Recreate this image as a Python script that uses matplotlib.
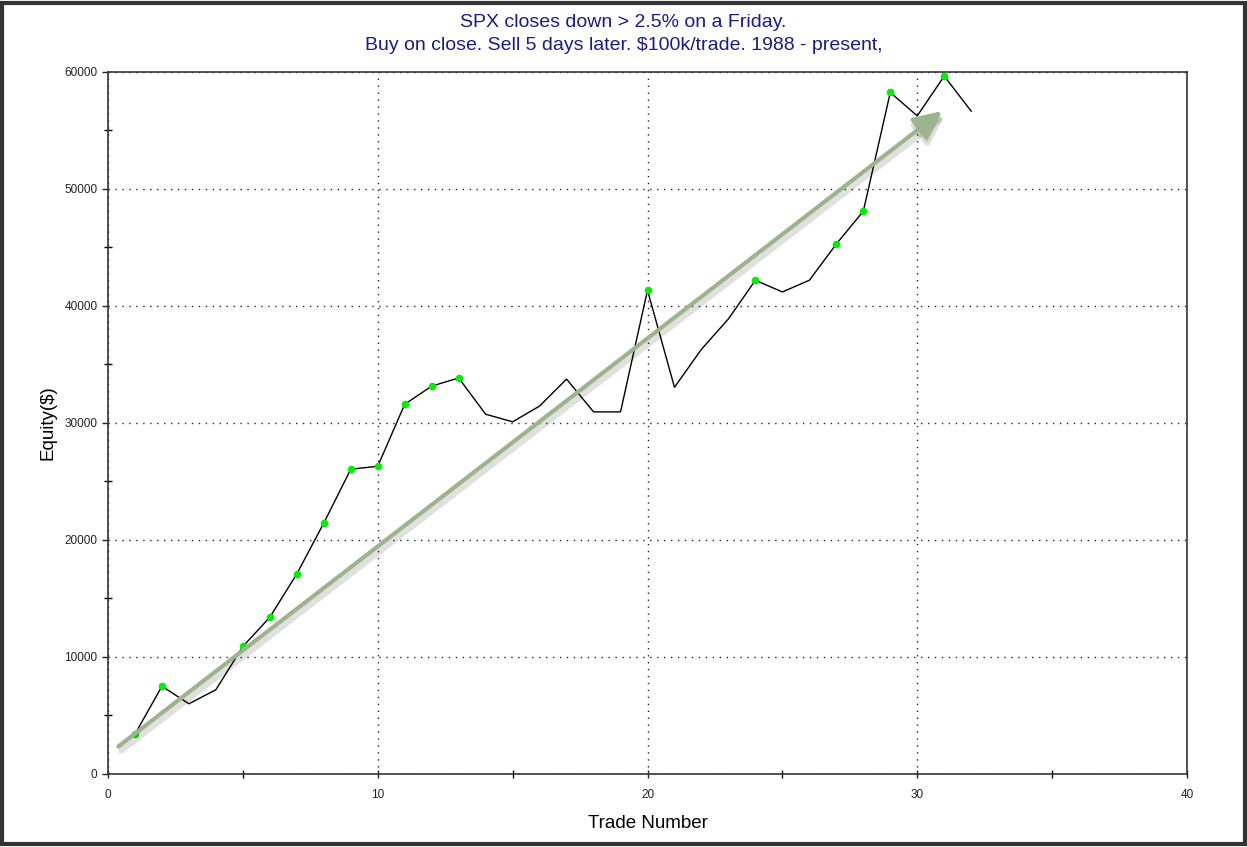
import matplotlib.pyplot as plt
from matplotlib.patches import Rectangle, FancyArrowPatch
from matplotlib.ticker import MultipleLocator
from matplotlib.transforms import offset_copy

# Datos
trades = list(range(1, 33))
equity = [3400, 7500, 6000, 7200, 10900, 13400, 17100, 21450, 26050, 26300,
          31600, 33150, 33850, 30750, 30100, 31450, 33750, 30950, 30950, 41350,
          33050, 36300, 38900, 42200, 41200, 42200, 45300, 48100, 58250, 56250,
          59650, 56650]
# Trades con nuevo maximo (puntos verdes)
new_high_trades = [1, 2, 5, 6, 7, 8, 9, 10, 11, 12, 13, 20, 24, 27, 28, 29, 31]

# Flecha de tendencia (inicio y fin en coordenadas de datos)
arrow_start = (0.3, 2200)
arrow_end = (31.0, 56800)

title = "SPX closes down > 2.5% on a Friday.\nBuy on close. Sell 5 days later. $100k/trade. 1988 - present,"

plt.rcParams["font.family"] = ["Liberation Sans", "DejaVu Sans"]

fig = plt.figure(figsize=(12.47, 8.47), dpi=100)
ax = fig.add_axes([0.0866, 0.0862, 0.8653, 0.8288])

ax.plot(trades, equity, color="black", linewidth=1.0, zorder=3)
high_equity = [equity[t - 1] for t in new_high_trades]
ax.scatter(new_high_trades, high_equity, s=30, color="#00ee00", zorder=4, linewidths=0)

# sombra de la flecha
estilo = "-|>,head_length=17,head_width=8"
sombra = FancyArrowPatch(arrow_start, arrow_end, arrowstyle=estilo, color="#000000", alpha=0.12,
                         linewidth=4.5, mutation_scale=1, zorder=4.5,
                         transform=offset_copy(ax.transData, fig, x=3, y=-4, units="dots"))
ax.add_patch(sombra)
arrow = FancyArrowPatch(arrow_start, arrow_end, arrowstyle=estilo,
                        color="#9cb48c", linewidth=3, mutation_scale=1, zorder=5)
ax.add_patch(arrow)

ax.set_xlim(0, 40)
ax.set_ylim(0, 60000)
ax.xaxis.set_major_locator(MultipleLocator(10))
ax.xaxis.set_minor_locator(MultipleLocator(5))
ax.yaxis.set_major_locator(MultipleLocator(10000))
ax.yaxis.set_minor_locator(MultipleLocator(5000))
ax.tick_params(which="major", direction="out", length=4, width=1, labelsize=8.5, colors="#222222")
ax.tick_params(which="minor", direction="inout", length=6, width=1)
ax.tick_params(axis="x", which="major", direction="inout", length=6, pad=8)
ax.grid(True, which="major", linestyle=(0, (1, 4)), color="#222222", linewidth=1.0)

for side in ["left", "bottom", "top", "right"]:
    ax.spines[side].set_color("#333333")
    ax.spines[side].set_linewidth(1.2)

ax.set_xlabel("Trade Number", fontsize=13.5, labelpad=10)
ax.set_ylabel("Equity($)", fontsize=13.5, labelpad=6)
fig.text(0.5, 0.960, title, ha="center", va="center", fontsize=14, color="#1a1a8c",
         linespacing=1.45)

# marco exterior
fig.patches.append(Rectangle((0.002, 0.003), 0.996, 0.994, transform=fig.transFigure,
                             fill=False, edgecolor="#333333", linewidth=3))

plt.savefig("out.png", dpi=100)
